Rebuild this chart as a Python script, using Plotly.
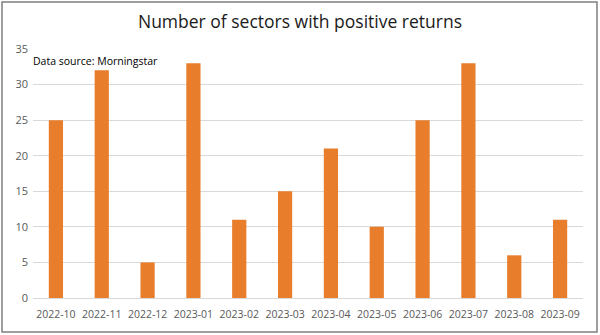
import plotly.graph_objects as go

months = ["2022-10", "2022-11", "2022-12", "2023-01", "2023-02", "2023-03",
          "2023-04", "2023-05", "2023-06", "2023-07", "2023-08", "2023-09"]
sectors_positive = [25, 32, 5, 33, 11, 15, 21, 10, 25, 33, 6, 11]
y_ticks = [0, 5, 10, 15, 20, 25, 30, 35]

fig = go.Figure(go.Bar(x=months, y=sectors_positive, marker_color="#E87D2B",
                       marker_line_width=0))

L, R, T, B = 33, 17, 49, 37
W, H = 600, 335
pw, ph = W - L - R, H - T - B

def px_to_paper_x(px):
    return (px - L) / pw

def px_to_paper_y(py):
    return (H - B - py) / ph

fig.update_layout(
    width=W, height=H,
    margin=dict(l=L, r=R, t=T, b=B),
    paper_bgcolor="white", plot_bgcolor="white",
    bargap=0.69,
    showlegend=False,
    font=dict(family="Open Sans, sans-serif", color="#595959", size=11),
    title=dict(text="Number of sectors with positive returns",
               x=0.5, xanchor="center", y=1 - 22 / H, yanchor="middle",
               font=dict(size=17.5, color="#1a1a1a")),
    xaxis=dict(type="category", showgrid=False, showline=True, linecolor="#D9D9D9",
               linewidth=1, ticks="", tickangle=0, ticklabelstandoff=6,
               tickfont=dict(size=10.5, color="#595959")),
    yaxis=dict(range=[0, 35], tickvals=y_ticks, showgrid=True, gridcolor="#D9D9D9",
               gridwidth=1, zeroline=False, ticks="", showline=False,
               ticklabelstandoff=4,
               tickfont=dict(size=11, color="#595959")),
)

fig.add_annotation(text="Data source: Morningstar", xref="paper", yref="paper",
                   x=px_to_paper_x(31), y=px_to_paper_y(61), xanchor="left",
                   yanchor="middle", showarrow=False,
                   font=dict(size=10.5, color="#000000"))

fig.add_shape(type="rect", xref="paper", yref="paper",
              x0=px_to_paper_x(2), x1=px_to_paper_x(597),
              y0=px_to_paper_y(332), y1=px_to_paper_y(2),
              line=dict(color="#7F7F7F", width=1.5), fillcolor="rgba(0,0,0,0)")

fig.write_html("out.html")
